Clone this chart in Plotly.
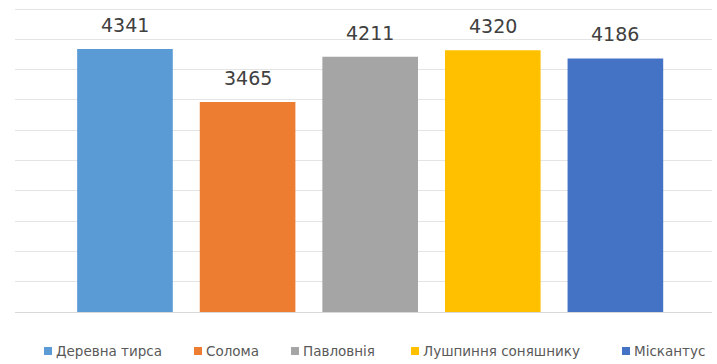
import plotly.graph_objects as go

# Calorific value by biomass type
names = ["Деревна тирса", "Солома", "Павловнія", "Лушпиння соняшнику", "Міскантус"]
values = [4341, 3465, 4211, 4320, 4186]
colors = ["#5B9BD5", "#ED7D31", "#A5A5A5", "#FFC000", "#4472C4"]

W, H = 717, 364
M = dict(l=15, r=5, t=3, b=52)
PW = W - M["l"] - M["r"]
PH = H - M["t"] - M["b"]

# legend row layout (pixel positions of each entry's text start, row centre)
legend_text_x = [55, 205, 302, 422, 633]
legend_y = 351


def px_x(px):
    return (px - M["l"]) / PW


def px_y(py):
    return (H - M["b"] - py) / PH


LABEL_FONT = dict(family="DejaVu Sans, sans-serif", size=19, color="#404040")
LEGEND_FONT = dict(family="DejaVu Sans, sans-serif", size=13.5, color="#595959")

fig = go.Figure()
for i, (n, v, c) in enumerate(zip(names, values, colors)):
    fig.add_trace(go.Bar(
        x=[i], y=[v], name=n, marker=dict(color=c, line=dict(width=0)),
        width=0.78, showlegend=False,
    ))
    fig.add_annotation(
        x=i, y=v, text=str(v), showarrow=False, yanchor="bottom", yshift=11,
        font=LABEL_FONT,
    )

# legend: small square swatch followed by the series name
for n, c, tx in zip(names, colors, legend_text_x):
    fig.add_shape(type="rect", xref="paper", yref="paper",
                  x0=px_x(tx - 11), x1=px_x(tx - 3),
                  y0=px_y(legend_y + 4), y1=px_y(legend_y - 4),
                  fillcolor=c, line=dict(width=0))
    fig.add_annotation(xref="paper", yref="paper", x=px_x(tx), y=px_y(legend_y),
                       xanchor="left", yanchor="middle", text=n, showarrow=False,
                       font=LEGEND_FONT, borderpad=0)

fig.update_layout(
    width=W, height=H,
    margin=M,
    paper_bgcolor="white", plot_bgcolor="white",
    barmode="overlay",
    showlegend=False,
    xaxis=dict(range=[-0.897, 4.788], showticklabels=False, showgrid=False,
               zeroline=False, showline=False, ticks=""),
    yaxis=dict(range=[0, 5100], tickvals=list(range(500, 5001, 500)), showticklabels=False,
               showgrid=True, gridcolor="#E4E4E4", gridwidth=1, zeroline=True,
               zerolinecolor="#D9D9D9", zerolinewidth=1, showline=False, ticks=""),
)

fig.write_html("out.html")
